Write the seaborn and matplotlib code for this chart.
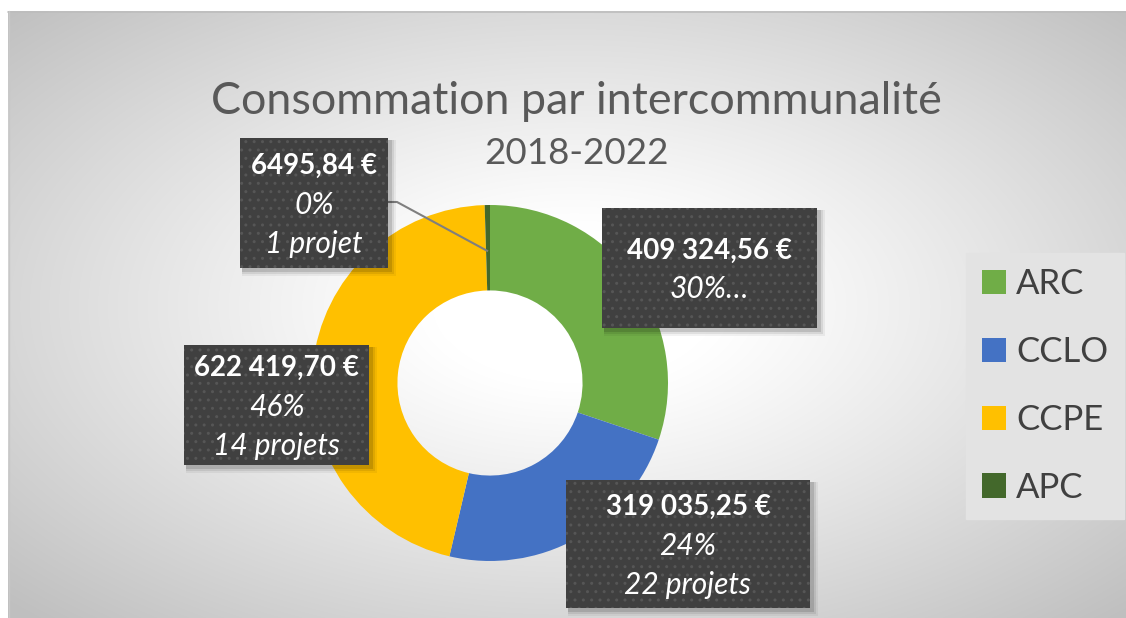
import numpy as np
import matplotlib
matplotlib.use("Agg")
import matplotlib.pyplot as plt
from matplotlib.patches import Rectangle
import seaborn as sns

# ---- data ----
categories = ["ARC", "CCLO", "CCPE", "APC"]
amounts = [409324.56, 319035.25, 622419.70, 6495.84]
projects = [None, 22, 14, 1]          # ARC label is cut off after the percentage
colors = ["#70AD47", "#4472C4", "#FFC000", "#43682B"]
title_lines = ["Consommation par intercommunalité", "2018-2022"]

sns.set_theme(style="white")
plt.rcParams["font.family"] = ["Lato", "DejaVu Sans"]

W, H = 1126, 618
fig = plt.figure(figsize=(W / 100, H / 100), dpi=100)
fig.patch.set_facecolor("white")

# ---- background with radial gradient ----
ax_bg = fig.add_axes([0, 0, 1, 1], zorder=0)
ax_bg.set_xlim(0, W)
ax_bg.set_ylim(H, 0)
ax_bg.axis("off")
yy, xx = np.mgrid[0:H, 0:W]
d = np.sqrt(((xx - 570) / 560.0) ** 2 + ((yy - 300) / 310.0) ** 2) / np.sqrt(2)
v = 1 - 0.25 * np.clip((d - 0.18) / 0.82, 0, 1) ** 1.1
img = np.dstack([v, v, v])
ax_bg.imshow(img, extent=(8, W, H, 11), aspect="auto", interpolation="bilinear")
ax_bg.plot([8, W], [11.5, 11.5], color="#bdbdbd", lw=1.2)
ax_bg.plot([8.5, 8.5], [11, H], color="#c8c8c8", lw=1.0)

# ---- donut ----
cx, cy, R = 490, 383, 178
ax = fig.add_axes([(cx - R) / W, (H - cy - R) / H, 2 * R / W, 2 * R / H], zorder=1)
wedges, _ = ax.pie(amounts, colors=colors, startangle=90, counterclock=False,
                   radius=1.0, wedgeprops=dict(width=0.48, linewidth=0))
ax.set_xlim(-1, 1)
ax.set_ylim(-1, 1)
ax.set_aspect("auto")
ax.axis("off")

# ---- overlay for labels ----
ov = fig.add_axes([0, 0, 1, 1], zorder=2)
ov.set_xlim(0, W)
ov.set_ylim(H, 0)
ov.axis("off")
ov.patch.set_alpha(0)


def fr_money(x):
    s = f"{x:,.2f}".replace(",", " ").replace(".", ",")
    if x < 10000:
        s = s.replace(" ", "")
    return s + " €"


total = sum(amounts)
boxes = {  # x0, y0, x1, y1 in pixels
    "ARC": (602, 208, 817, 328),
    "CCLO": (566, 480, 810, 608),
    "CCPE": (184, 345, 369, 465),
    "APC": (240, 138, 388, 268),
}

# leader line for the thin APC slice
w_apc = wedges[3]
mid = np.deg2rad((w_apc.theta1 + w_apc.theta2) / 2)
anchor = ax.transData.transform((0.74 * np.cos(mid), 0.74 * np.sin(mid)))
ax_pt = ov.transData.inverted().transform(anchor)
bx = boxes["APC"]
ov.plot([bx[2], bx[2] + 9, ax_pt[0]], [202, 202, ax_pt[1]],
        color="#7f7f7f", lw=1.5, zorder=3, solid_capstyle="butt")

for cat, amt, npj in zip(categories, amounts, projects):
    x0, y0, x1, y1 = boxes[cat]
    # soft drop shadow
    for k, a in [(6, 0.05), (4, 0.08), (2, 0.12)]:
        ov.add_patch(Rectangle((x0 + 2, y0 + 2), x1 - x0 + k, y1 - y0 + k,
                               facecolor="black", alpha=a, lw=0, zorder=3))
    ov.add_patch(Rectangle((x0, y0), x1 - x0, y1 - y0, facecolor="#404040",
                           edgecolor="#565656", hatch="..", lw=0, zorder=4))
    pct = f"{round(amt / total * 100):d}%"
    xc = (x0 + x1) / 2
    if npj is None:
        lines = [(fr_money(amt), "bold", "normal", 20), (pct + "…", "normal", "italic", 21.5)]
    else:
        lines = [(fr_money(amt), "bold", "normal", 20), (pct, "normal", "italic", 21.5),
                 (f"{npj} projet" + ("s" if npj > 1 else ""), "normal", "italic", 21.5)]
    n = len(lines)
    yc = (y0 + y1) / 2 + 2
    step = 39
    for i, (txt, fw, fs, sz) in enumerate(lines):
        ov.text(xc, yc + (i - (n - 1) / 2) * step, txt, color="white",
                fontsize=sz, fontweight=fw, fontstyle=fs,
                ha="center", va="center", zorder=5)

# ---- title ----
ov.text(576, 101, title_lines[0], fontsize=32.3, color="#595959",
        ha="center", va="center", zorder=5)
ov.text(576, 154, title_lines[1], fontsize=26.5, color="#595959",
        ha="center", va="center", zorder=5)

# ---- legend ----
leg = fig.legend(wedges, categories, loc="center",
                 bbox_to_anchor=(1045 / W, 1 - 386 / H),
                 frameon=True, fancybox=False, facecolor="#e3e3e3",
                 edgecolor="#e3e3e3", framealpha=1, fontsize=25,
                 handlelength=0.7, handleheight=0.7, handletextpad=0.3,
                 labelspacing=1.03, borderpad=0.45, borderaxespad=0)
for t in leg.get_texts():
    t.set_color("#404040")
leg.set_zorder(6)

fig.savefig("out.png", dpi=100, facecolor="white")
